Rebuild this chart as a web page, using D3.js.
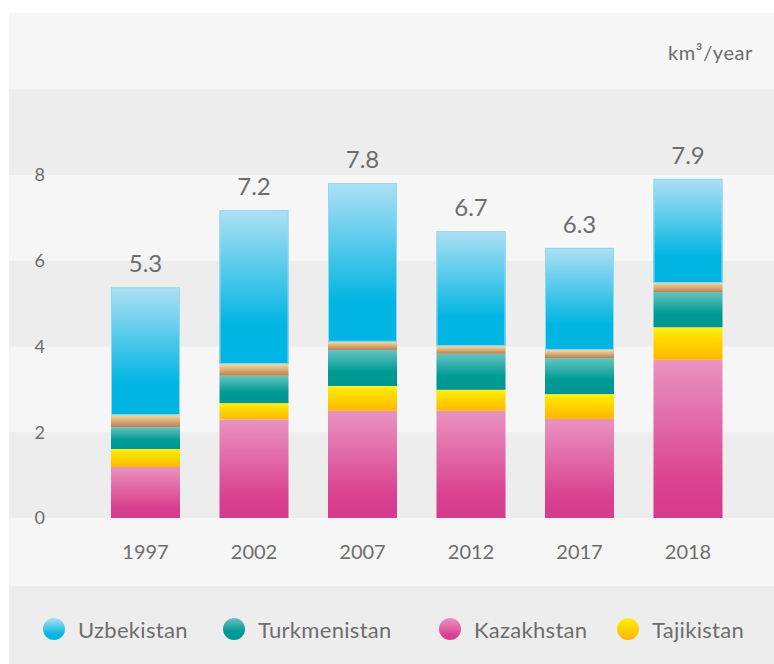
<!DOCTYPE html>
<html>
<head>
<meta charset="utf-8">
<script src="https://cdn.jsdelivr.net/npm/d3@7"></script>
<style>
  html, body { margin: 0; padding: 0; background: #ffffff; }
  svg { display: block; }
  text { font-family: Lato, "Open Sans", sans-serif; fill: #6d6d6d; }
</style>
</head>
<body>
<svg id="chart" width="774" height="664"></svg>
<script>
// ---- data ----
const years = ["1997", "2002", "2007", "2012", "2017", "2018"];
const kazakhstan   = [1.19, 2.30, 2.50, 2.50, 2.31, 3.69];
const tajikistan   = [0.42, 0.38, 0.58, 0.49, 0.58, 0.76];
const turkmenistan = [0.51, 0.64, 0.84, 0.84, 0.84, 0.82];
const kyrgyzstan   = [0.28, 0.27, 0.19, 0.18, 0.19, 0.21];
const uzbekistan   = [2.98, 3.59, 3.70, 2.68, 2.38, 2.43];
const totalLabels  = ["5.3", "7.2", "7.8", "6.7", "6.3", "7.9"];
const yTicks = [0, 2, 4, 6, 8];
const unitLabel = "km³/year";
const seriesKeys = ["Kazakhstan", "Tajikistan", "Turkmenistan", "Kyrgyzstan", "Uzbekistan"];
const legendNames = ["Uzbekistan", "Turkmenistan", "Kazakhstan", "Tajikistan"];

// ---- styles ----
const gradients = {
  Uzbekistan:   [[0, "#aee0f4"], [0.75, "#00b5e2"], [1, "#00b5e2"]],
  Kyrgyzstan:   [[0, "#f4d9a2"], [1, "#b9814f"]],
  Turkmenistan: [[0, "#66c3c1"], [0.6, "#009b95"], [1, "#009590"]],
  Tajikistan:   [[0, "#fff01e"], [0.25, "#ffe000"], [1, "#fdb700"]],
  Kazakhstan:   [[0, "#ea93c0"], [0.8, "#d9408f"], [1, "#d73b8b"]]
};
const legendX = [54, 234, 450, 628];

const table = years.map((yr, i) => ({
  year: yr,
  Kazakhstan: kazakhstan[i],
  Tajikistan: tajikistan[i],
  Turkmenistan: turkmenistan[i],
  Kyrgyzstan: kyrgyzstan[i],
  Uzbekistan: uzbekistan[i],
  label: totalLabels[i]
}));

const svg = d3.select("#chart");
const defs = svg.append("defs");
Object.entries(gradients).forEach(([k, stops]) => {
  const g = defs.append("linearGradient").attr("id", "g-" + k)
    .attr("x1", 0).attr("y1", 0).attr("x2", 0).attr("y2", 1);
  stops.forEach(([o, c]) => g.append("stop").attr("offset", o).attr("stop-color", c));
});

const y = d3.scaleLinear().domain([0, 10]).range([518, 89.25]);
const x = d3.scaleBand().domain(years).range([111, 722.5]).paddingInner(0.364).paddingOuter(0);

// panel background
svg.append("rect").attr("x", 9).attr("y", 13).attr("width", 765).attr("height", 651).attr("fill", "#f6f6f6");
// horizontal bands
const bands = [[0, 2], [4, 6], [8, 10]];
svg.append("g").selectAll("rect").data(bands).join("rect")
  .attr("x", 9).attr("width", 765)
  .attr("y", d => y(d[1])).attr("height", d => y(d[0]) - y(d[1]))
  .attr("fill", "#ededed");
// legend area
svg.append("rect").attr("x", 9).attr("y", 586).attr("width", 765).attr("height", 78).attr("fill", "#ededed");

// unit label
svg.append("text").attr("x", 753).attr("y", 52).attr("text-anchor", "end")
  .attr("dominant-baseline", "central").style("font-size", "20px")
  .style("letter-spacing", "0.6px").text(unitLabel);

// stacked bars
const stack = d3.stack().keys(seriesKeys)(table);
svg.append("g").selectAll("g").data(stack).join("g")
  .attr("fill", d => `url(#g-${d.key})`)
  .each(function (s) {
    d3.select(this).selectAll("rect").data(s).join("rect")
      .attr("x", d => x(d.data.year))
      .attr("width", x.bandwidth())
      .attr("y", d => y(d[1]))
      .attr("height", d => y(d[0]) - y(d[1]));
  });
// light edge on the Uzbekistan segment (inset)
const last = stack[stack.length - 1];
svg.append("g").selectAll("rect").data(last).join("rect")
  .attr("x", d => x(d.data.year) + 0.5)
  .attr("width", x.bandwidth() - 1)
  .attr("y", d => y(d[1]) + 0.5)
  .attr("height", d => y(d[0]) - y(d[1]) - 1)
  .attr("fill", "none").attr("stroke", "#8fd8f2").attr("stroke-width", 1);

// total labels
svg.append("g").selectAll("text").data(last).join("text")
  .attr("x", d => x(d.data.year) + x.bandwidth() / 2)
  .attr("y", d => y(d[1]) - 15)
  .attr("text-anchor", "middle")
  .style("font-size", "24px")
  .text(d => d.data.label);

// y axis
const yAxis = svg.append("g").attr("transform", "translate(45,0)")
  .call(d3.axisLeft(y).tickValues(yTicks).tickSize(0).tickPadding(0).tickFormat(d3.format("d")));
yAxis.select(".domain").remove();
yAxis.selectAll("text").style("font-size", "18px").attr("fill", "#6d6d6d")
  .style("font-family", "Lato, 'Open Sans', sans-serif");

// x axis
const xAxis = svg.append("g").attr("transform", "translate(0,518)")
  .call(d3.axisBottom(x).tickSize(0).tickPadding(27));
xAxis.select(".domain").remove();
xAxis.selectAll("text").style("font-size", "20px").attr("fill", "#6d6d6d")
  .style("font-family", "Lato, 'Open Sans', sans-serif");

// legend
const lg = svg.append("g").selectAll("g").data(legendNames).join("g")
  .attr("transform", (d, i) => `translate(${legendX[i]},629)`);
lg.append("circle").attr("r", 11).attr("fill", d => `url(#g-${d})`);
lg.append("text").attr("x", 24).attr("dominant-baseline", "central")
  .style("font-size", "22px").style("letter-spacing", "0.3px").text(d => d);
</script>
</body>
</html>
